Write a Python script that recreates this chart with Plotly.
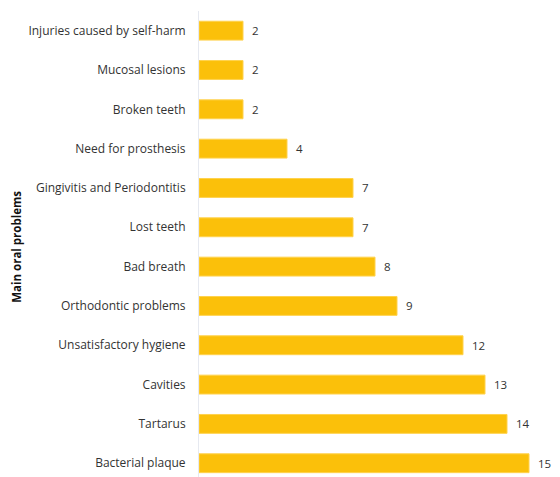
import plotly.graph_objects as go

categories = ["Bacterial plaque", "Tartarus", "Cavities", "Unsatisfactory hygiene",
              "Orthodontic problems", "Bad breath", "Lost teeth",
              "Gingivitis and Periodontitis", "Need for prosthesis", "Broken teeth",
              "Mucosal lesions", "Injuries caused by self-harm"]
values = [15, 14, 13, 12, 9, 8, 7, 7, 4, 2, 2, 2]

fig = go.Figure(go.Bar(
    x=values, y=categories, orientation="h",
    marker=dict(color="#FBC00A", line=dict(color="#FFD24D", width=1)),
    text=[f"  {v}" for v in values], textposition="outside",
    textfont=dict(family="Open Sans", size=11.5, color="#333333"),
    cliponaxis=False, width=0.48,
))

fig.update_layout(
    width=560, height=477,
    margin=dict(l=199, r=20, t=11, b=0),
    paper_bgcolor="white", plot_bgcolor="white",
    font=dict(family="Open Sans", size=12, color="#333333"),
    showlegend=False,
    xaxis=dict(range=[0, 15.5], visible=False, fixedrange=True),
    yaxis=dict(type="category", range=[-0.35, 11.5], showline=True,
               linecolor="#E6E9F0", linewidth=1, ticks="", ticklabelstandoff=10,
               tickfont=dict(size=12, color="#333333"), showgrid=False),
    annotations=[dict(text="<b>Main oral problems</b>", textangle=-90,
                      xref="paper", yref="paper", x=(17 - 199) / 341, y=0.494,
                      xanchor="center", yanchor="middle", showarrow=False,
                      font=dict(size=11.5, color="#111111"))],
)

fig.write_html("out.html", config={"displayModeBar": False},
               post_script="document.body.style.margin='0';")
